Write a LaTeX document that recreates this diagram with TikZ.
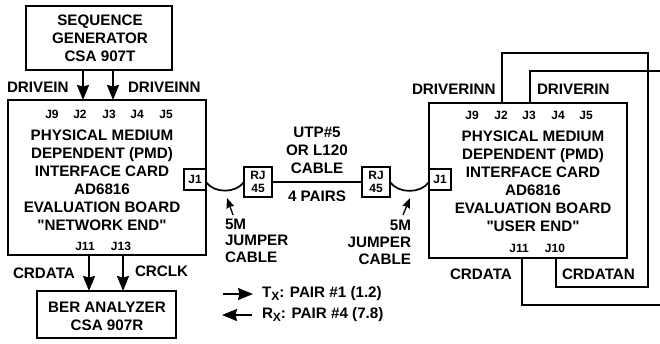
\documentclass[tikz,border=0pt]{standalone}
\usepackage{fontspec}
\defaultfontfeatures[\rmfamily]{}
\setmainfont[Ligatures=ResetAll]{Liberation Sans}
\usetikzlibrary{arrows.meta}
\newcommand{\subX}{\raisebox{-3pt}{\fontsize{12}{12}\selectfont X}}
\tikzset{
  box/.style={draw,line width=2pt,inner sep=0pt,outer sep=0pt},
  jack/.style={draw,line width=1.6pt,inner sep=0pt,outer sep=0pt,align=center,font=\fontsize{12}{13}\selectfont\bfseries},
  txt/.style={inner sep=0pt,outer sep=0pt,align=center,font=\fontsize{15.2}{18}\selectfont\bfseries},
  port/.style={inner sep=0pt,outer sep=0pt,font=\fontsize{12}{13}\selectfont\bfseries},
  sig/.style={line width=1.8pt,-{Stealth[length=15pt,width=12pt,inset=1.5pt]}},
  wire/.style={line width=1.7pt},
  pointer/.style={line width=1.3pt,-{Stealth[length=10pt,width=8pt,inset=1pt]}}
}
\begin{document}
\begin{tikzpicture}[x=1pt,y=-1pt]
\useasboundingbox (0,0) rectangle (660,343);
\node[box,minimum width=146pt,minimum height=64pt] (seq) at (99,38) {};
\node[box,minimum width=198pt,minimum height=155pt] (pmdL) at (107,177.5) {};
\node[box,minimum width=198pt,minimum height=155pt] (pmdR) at (528,180.5) {};
\node[box,minimum width=139pt,minimum height=47pt] (ber) at (106.5,314.5) {};
\node[txt] (seqText) at (100,38) {SEQUENCE\\GENERATOR\\CSA 907T};
\node[txt] (pmdLText) at (102,180) {PHYSICAL MEDIUM\\DEPENDENT (PMD)\\INTERFACE CARD\\AD6816\\EVALUATION BOARD\\"NETWORK END"};
\node[txt] (pmdRText) at (533,181.5) {PHYSICAL MEDIUM\\DEPENDENT (PMD)\\INTERFACE CARD\\AD6816\\EVALUATION BOARD\\"USER END"};
\node[txt] (berText) at (107,316.5) {BER ANALYZER\\CSA 907R};
\node[port] (j9L) at (52,114) {J9};
\node[port] (j2L) at (80,114) {J2};
\node[port] (j3L) at (109,114) {J3};
\node[port] (j4L) at (137,114) {J4};
\node[port] (j5L) at (166,114) {J5};
\node[port] (j11L) at (85,246) {J11};
\node[port] (j13L) at (121,246) {J13};
\node[port] (j9R) at (472,115) {J9};
\node[port] (j2R) at (501,115) {J2};
\node[port] (j3R) at (529,115) {J3};
\node[port] (j4R) at (558,115) {J4};
\node[port] (j5R) at (586,115) {J5};
\node[port] (j11R) at (519,248) {J11};
\node[port] (j10R) at (555,248) {J10};
\node[jack,minimum width=22pt,minimum height=21pt] (j1L) at (195,179.5) {J1};
\node[jack,minimum width=22pt,minimum height=21pt] (j1R) at (440,179.5) {J1};
\node[jack,minimum width=28pt,minimum height=30pt] (rjL) at (258,182) {RJ\\45};
\node[jack,minimum width=28pt,minimum height=30pt] (rjR) at (376,182) {RJ\\45};
\node[txt] (cableText) at (317,150) {UTP\#5\\OR L120\\CABLE};
\node[txt] (pairsText) at (317,196) {4 PAIRS};
\node[txt,align=left,anchor=north west,font=\fontsize{15.2}{16.5}\selectfont\bfseries] (jumperL) at (225,219) {5M\\JUMPER\\CABLE};
\node[txt,align=right,anchor=north east,font=\fontsize{15.2}{17}\selectfont\bfseries] (jumperR) at (411,220.5) {5M\\JUMPER\\CABLE};
\node[txt,anchor=west] (driveinText) at (7,87) {DRIVEIN};
\node[txt,anchor=west] (driveinnText) at (128,87) {DRIVEINN};
\node[txt,anchor=west] (crdataLText) at (13,273) {CRDATA};
\node[txt,anchor=west] (crclkText) at (135,271) {CRCLK};
\node[txt,anchor=west] (driverinnText) at (412,89) {DRIVERINN};
\node[txt,anchor=west] (driverinText) at (537,89) {DRIVERIN};
\node[txt,anchor=west] (crdataRText) at (450,274) {CRDATA};
\node[txt,anchor=west] (crdatanText) at (562,274) {CRDATAN};
\node[txt,anchor=west] (txText) at (262,294) {T\subX: PAIR \#1 (1.2)};
\node[txt,anchor=west] (rxText) at (262,315) {R\subX: PAIR \#4 (7.8)};
\coordinate (driveinX) at (83,85);
\coordinate (driveinnX) at (113,85);
\coordinate (crdataX) at (89,273);
\coordinate (crclkX) at (123,273);
\coordinate (innX) at (502,60);
\coordinate (inX) at (530,80);
\coordinate (crdataRX) at (522,280);
\coordinate (crdatanX) at (556,270);
\coordinate (innTop) at (648,53);
\coordinate (innLow) at (648,287);
\coordinate (inEnd) at (660,71);
\coordinate (crdataEnd) at (660,305);
\coordinate (txTail) at (223,294);
\coordinate (txTip) at (253,294);
\coordinate (rxTail) at (252,315);
\coordinate (rxTip) at (222,315);
\coordinate (tipL) at (227,198);
\coordinate (tipR) at (410,198);
\coordinate (tailL) at (233,215);
\coordinate (tailR) at (403,215);
\draw[sig] (seq.south -| driveinX) -- (pmdL.north -| driveinX);
\draw[sig] (seq.south -| driveinnX) -- (pmdL.north -| driveinnX);
\draw[sig] (pmdL.south -| crdataX) -- (ber.north -| crdataX);
\draw[sig] (pmdL.south -| crclkX) -- (ber.north -| crclkX);
\draw[wire] (pmdR.north -| innX) |- (innTop) |- (innLow) -| (pmdR.south -| crdatanX);
\draw[wire] (pmdR.north -| inX) |- (inEnd);
\draw[wire] (pmdR.south -| crdataRX) |- (crdataEnd);
\draw[box] (rjL.east) -- (rjR.west);
\draw[wire] (j1L.east |- rjL.east) to[out=-55,in=-125,looseness=0.95] (rjL.west);
\draw[wire] (rjR.east) to[out=-55,in=-125,looseness=0.95] (j1R.west |- rjR.east);
\draw[pointer] (tailL) -- (tipL);
\draw[pointer] (tailR) -- (tipR);
\draw[sig] (txTail) -- (txTip);
\draw[sig] (rxTail) -- (rxTip);
\end{tikzpicture}
\end{document}
